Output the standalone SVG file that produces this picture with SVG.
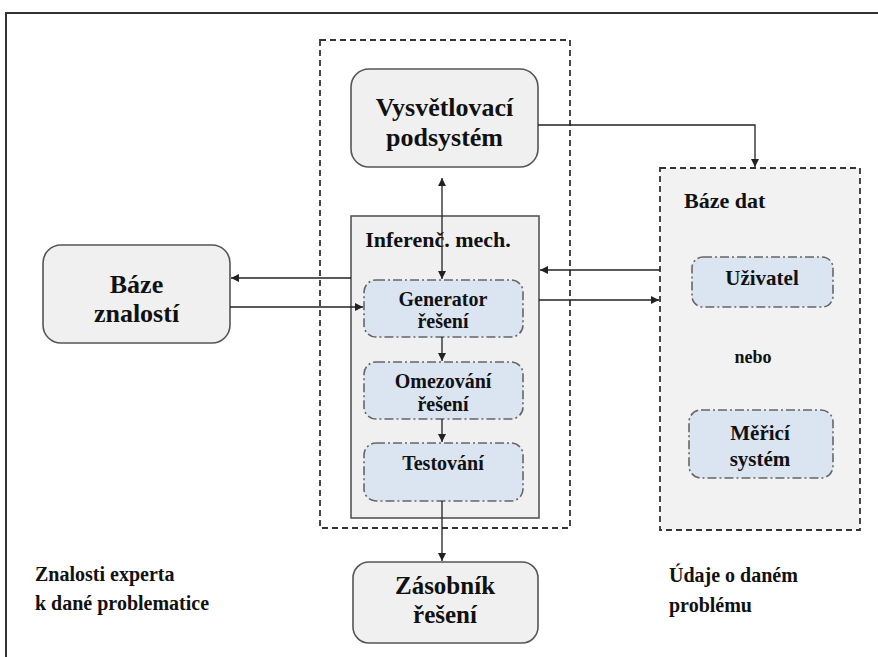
<svg xmlns="http://www.w3.org/2000/svg" width="878" height="657" viewBox="0 0 878 657" font-family="Times New Roman, Liberation Serif, serif">
<defs>
<marker id="ah" viewBox="0 0 10 10" refX="10" refY="5" markerWidth="8" markerHeight="8" markerUnits="userSpaceOnUse" orient="auto-start-reverse">
<path d="M0,0 L10,5 L0,10 z" fill="#222"/>
</marker>
</defs>
<rect width="878" height="657" fill="#fff"/>
<path d="M6,657 V13 H878" stroke="#333" stroke-width="2" fill="none"/>

<g id="inference-container">
<rect x="320" y="40" width="250" height="488" fill="none" stroke="#333" stroke-width="1.8" stroke-dasharray="6 4"/>
</g>

<g id="vysvetlovaci">
<rect x="351" y="69" width="187" height="98" rx="18" fill="#f0f0f0" stroke="#555" stroke-width="1.6"/>
<text x="444.5" y="116" font-size="26" font-weight="bold" font-family="Times New Roman" text-anchor="middle" fill="#111">Vysvětlovací</text>
<text x="444.5" y="146" font-size="26" font-weight="bold" font-family="Times New Roman" text-anchor="middle" fill="#111">podsystém</text>
</g>

<g id="inferencni-mech">
<rect x="351" y="216" width="188" height="302" fill="#f0f0f0" stroke="#555" stroke-width="1.6"/>
<text x="438" y="247" font-size="22" font-weight="bold" font-family="Times New Roman" text-anchor="middle" fill="#111">Inferenč. mech.</text>
</g>

<g id="generator">
<rect x="364" y="280" width="159" height="57" rx="12" fill="#dbe5f1" stroke="#666" stroke-width="1.6" stroke-dasharray="9 3 2 3"/>
<text x="443" y="306" font-size="20" font-weight="bold" font-family="Times New Roman" text-anchor="middle" fill="#111">Generator</text>
<text x="443" y="328" font-size="20" font-weight="bold" font-family="Times New Roman" text-anchor="middle" fill="#111">řešení</text>
</g>

<g id="omezovani">
<rect x="364" y="362" width="159" height="57" rx="12" fill="#dbe5f1" stroke="#666" stroke-width="1.6" stroke-dasharray="9 3 2 3"/>
<text x="443" y="388" font-size="20" font-weight="bold" font-family="Times New Roman" text-anchor="middle" fill="#111">Omezování</text>
<text x="443" y="411" font-size="20" font-weight="bold" font-family="Times New Roman" text-anchor="middle" fill="#111">řešení</text>
</g>

<g id="testovani">
<rect x="364" y="443" width="159" height="58" rx="12" fill="#dbe5f1" stroke="#666" stroke-width="1.6" stroke-dasharray="9 3 2 3"/>
<text x="443" y="470" font-size="20" font-weight="bold" font-family="Times New Roman" text-anchor="middle" fill="#111">Testování</text>
</g>

<g id="zasobnik">
<rect x="353" y="562" width="185" height="81" rx="16" fill="#f0f0f0" stroke="#555" stroke-width="1.6"/>
<text x="445" y="594" font-size="25" font-weight="bold" font-family="Times New Roman" text-anchor="middle" fill="#111">Zásobník</text>
<text x="445" y="623" font-size="25" font-weight="bold" font-family="Times New Roman" text-anchor="middle" fill="#111">řešení</text>
</g>

<g id="baze-znalosti">
<rect x="43" y="245" width="187" height="98" rx="18" fill="#f0f0f0" stroke="#555" stroke-width="1.6"/>
<text x="136.5" y="293" font-size="26" font-weight="bold" font-family="Times New Roman" text-anchor="middle" fill="#111">Báze</text>
<text x="136.5" y="322" font-size="26" font-weight="bold" font-family="Times New Roman" text-anchor="middle" fill="#111">znalostí</text>
</g>

<g id="baze-dat">
<rect x="660" y="168" width="200" height="362" fill="#f2f2f2" stroke="#333" stroke-width="1.8" stroke-dasharray="6 4"/>
<text x="684" y="208" font-size="22" font-weight="bold" font-family="Times New Roman" fill="#111">Báze dat</text>
<text x="753" y="363" font-size="18" font-weight="bold" font-family="Times New Roman" text-anchor="middle" fill="#111">nebo</text>
</g>

<g id="uzivatel">
<rect x="692" y="257" width="141" height="50" rx="11" fill="#dbe5f1" stroke="#666" stroke-width="1.6" stroke-dasharray="9 3 2 3"/>
<text x="762" y="285" font-size="21" font-weight="bold" font-family="Times New Roman" text-anchor="middle" fill="#111">Uživatel</text>
</g>

<g id="merici-system">
<rect x="689" y="410" width="144" height="68" rx="12" fill="#dbe5f1" stroke="#666" stroke-width="1.6" stroke-dasharray="9 3 2 3"/>
<text x="760" y="440" font-size="21" font-weight="bold" font-family="Times New Roman" text-anchor="middle" fill="#111">Měřicí</text>
<text x="760" y="466" font-size="21" font-weight="bold" font-family="Times New Roman" text-anchor="middle" fill="#111">systém</text>
</g>

<g id="labels">
<text x="35" y="581" font-size="20" font-weight="bold" font-family="Times New Roman" fill="#111">Znalosti experta</text>
<text x="35" y="610" font-size="20" font-weight="bold" font-family="Times New Roman" fill="#111">k dané problematice</text>
<text x="669" y="582" font-size="20" font-weight="bold" font-family="Times New Roman" fill="#111">Údaje o daném</text>
<text x="669" y="612" font-size="20" font-weight="bold" font-family="Times New Roman" fill="#111">problému</text>
</g>

<g id="connectors" stroke="#222" stroke-width="1.3" fill="none">
<line x1="442" y1="178" x2="442" y2="279" marker-start="url(#ah)" marker-end="url(#ah)"/>
<line x1="442" y1="337" x2="442" y2="361" marker-end="url(#ah)"/>
<line x1="442" y1="419" x2="442" y2="442" marker-end="url(#ah)"/>
<line x1="442" y1="501" x2="442" y2="561" marker-end="url(#ah)"/>
<line x1="351" y1="278" x2="231" y2="278" marker-end="url(#ah)"/>
<line x1="230" y1="307" x2="363" y2="307" marker-end="url(#ah)"/>
<line x1="660" y1="270" x2="540" y2="270" marker-end="url(#ah)"/>
<line x1="539" y1="300" x2="659" y2="300" marker-end="url(#ah)"/>
<polyline points="538,125 755,125 755,167" marker-end="url(#ah)"/>
</g>
</svg>
